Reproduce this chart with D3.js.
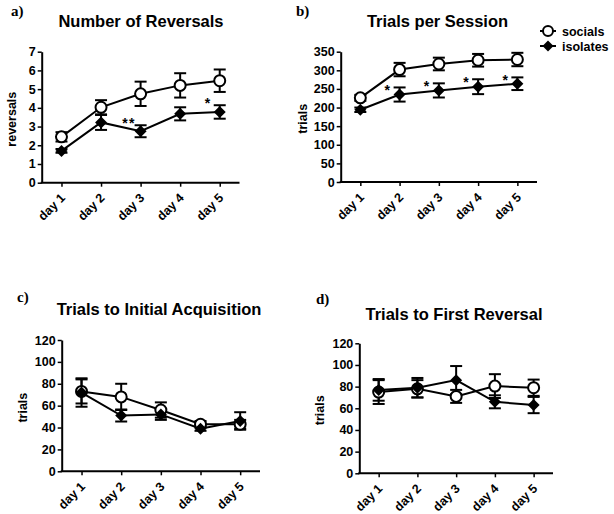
<!DOCTYPE html>
<html>
<head>
<meta charset="utf-8">
<script src="https://cdn.jsdelivr.net/npm/d3@7/dist/d3.min.js"></script>
<style>
  html, body { margin: 0; padding: 0; background: #fff; }
  svg { display: block; }
  text { font-family: "Liberation Sans", Arial, sans-serif; font-weight: bold; fill: #000; }
  .letter { font-family: "Liberation Serif", "Times New Roman", serif; }
</style>
</head>
<body>
<svg id="chart" width="614" height="514"></svg>
<script>
// ---------- data ----------
const days = ["day 1", "day 2", "day 3", "day 4", "day 5"];
const seriesNames = ["socials", "isolates"];

const reversalsSocialsMean = [2.45, 4.03, 4.75, 5.2, 5.45];
const reversalsSocialsSem  = [0.25, 0.38, 0.65, 0.65, 0.6];
const reversalsIsolatesMean = [1.7, 3.22, 2.75, 3.68, 3.78];
const reversalsIsolatesSem  = [0.1, 0.4, 0.32, 0.35, 0.36];
const reversalsSig = ["", "", "**", "", "*"];
const reversalsTicks = [0, 1, 2, 3, 4, 5, 6, 7];

const trialsSocialsMean = [226, 302, 317, 327, 329];
const trialsSocialsSem  = [8, 18, 17, 17, 18];
const trialsIsolatesMean = [194, 235, 246, 256, 264];
const trialsIsolatesSem  = [6, 19, 19, 20, 17];
const trialsSig = ["", "*", "*", "*", "*"];
const trialsTicks = [0, 50, 100, 150, 200, 250, 300, 350];

const acqSocialsMean = [73, 68, 56, 43, 43];
const acqSocialsSem  = [11, 12, 7, 3, 4];
const acqIsolatesMean = [72, 51, 52, 39, 46];
const acqIsolatesSem  = [13, 5.5, 5, 2, 8];
const acqSig = ["", "", "", "", ""];
const acqTicks = [0, 20, 40, 60, 80, 100, 120];

const firstRevSocialsMean = [75, 78, 71, 80.5, 79];
const firstRevSocialsSem  = [11, 8, 6, 11, 7.5];
const firstRevIsolatesMean = [77, 79, 86, 66, 63];
const firstRevIsolatesSem  = [10, 9, 13, 6, 7.5];
const firstRevSig = ["", "", "", "", ""];
const firstRevTicks = [0, 20, 40, 60, 80, 100, 120];

// ---------- drawing ----------
const svg = d3.select("#chart");

const panels = [
  { letter: "a)", title: "Number of Reversals", ylabel: "reversals",
    soc: reversalsSocialsMean, socE: reversalsSocialsSem, iso: reversalsIsolatesMean, isoE: reversalsIsolatesSem,
    sig: reversalsSig, ticks: reversalsTicks, starOff: -5,
    box: { l: 41.7, r: 239.5, t: 51.7, b: 182.7 }, letterPos: [11, 16], titlePos: [141, 27], ylabX: 16 },
  { letter: "b)", title: "Trials per Session", ylabel: "trials",
    soc: trialsSocialsMean, socE: trialsSocialsSem, iso: trialsIsolatesMean, isoE: trialsIsolatesSem,
    sig: trialsSig, ticks: trialsTicks, starOff: 0,
    box: { l: 340.7, r: 537, t: 51.7, b: 182 }, letterPos: [296, 16], titlePos: [437.5, 27], ylabX: 307 },
  { letter: "c)", title: "Trials to Initial Acquisition", ylabel: "trials",
    soc: acqSocialsMean, socE: acqSocialsSem, iso: acqIsolatesMean, isoE: acqIsolatesSem,
    sig: acqSig, ticks: acqTicks, starOff: 0,
    box: { l: 61.7, r: 260, t: 340, b: 471.3 }, letterPos: [17, 302], titlePos: [159, 315], ylabX: 27 },
  { letter: "d)", title: "Trials to First Reversal", ylabel: "trials",
    soc: firstRevSocialsMean, socE: firstRevSocialsSem, iso: firstRevIsolatesMean, isoE: firstRevIsolatesSem,
    sig: firstRevSig, ticks: firstRevTicks, starOff: 0,
    box: { l: 359.3, r: 553, t: 343.3, b: 473.3 }, letterPos: [316, 304], titlePos: [454, 320], ylabX: 324 }
];

function diamondPath(h) {
  return `M0,${-h}L${h},0L0,${h}L${-h},0Z`;
}

panels.forEach(p => {
  const g = svg.append("g");
  const b = p.box;
  const x = d3.scalePoint().domain(days).range([b.l, b.r]).padding(0.5);
  const y = d3.scaleLinear().domain([d3.min(p.ticks), d3.max(p.ticks)]).range([b.b, b.t]);

  // panel letter and title
  g.append("text").attr("class", "letter").attr("x", p.letterPos[0]).attr("y", p.letterPos[1])
    .attr("font-size", 15).text(p.letter);
  g.append("text").attr("x", p.titlePos[0]).attr("y", p.titlePos[1])
    .attr("text-anchor", "middle").attr("font-size", 16.5).text(p.title);

  // y axis
  const ya = g.append("g").attr("transform", `translate(${b.l},0)`)
    .call(d3.axisLeft(y).tickValues(p.ticks).tickFormat(d3.format("d")).tickSize(4).tickSizeOuter(0).tickPadding(2));
  ya.select(".domain").attr("stroke-width", 2).attr("stroke", "#000");
  ya.selectAll(".tick line").attr("stroke-width", 1.5).attr("stroke", "#000");
  ya.selectAll(".tick text").attr("font-size", 12.5).attr("font-family", "Liberation Sans, Arial, sans-serif")
    .attr("font-weight", "bold").attr("fill", "#000");

  // x axis
  const xa = g.append("g").attr("transform", `translate(0,${b.b})`)
    .call(d3.axisBottom(x).tickSize(4).tickSizeOuter(0));
  xa.select(".domain").attr("stroke-width", 2).attr("stroke", "#000")
    .attr("d", `M${b.l - 1},0H${b.r}`);
  xa.selectAll(".tick line").attr("stroke-width", 1.5).attr("stroke", "#000");
  xa.selectAll(".tick text")
    .attr("font-size", 12.5).attr("font-family", "Liberation Sans, Arial, sans-serif")
    .attr("font-weight", "bold").attr("fill", "#000")
    .attr("text-anchor", "end")
    .attr("dy", null).attr("y", 0)
    .attr("transform", "translate(4,16) rotate(-45)");

  // y label
  g.append("text").attr("transform", `translate(${p.ylabX},${(b.t + b.b) / 2 + 2}) rotate(-90)`)
    .attr("text-anchor", "middle").attr("font-size", 12.5).text(p.ylabel);

  const series = [
    { name: seriesNames[0], m: p.soc, e: p.socE },
    { name: seriesNames[1], m: p.iso, e: p.isoE }
  ];

  const line = d3.line().x((d, i) => x(days[i])).y(d => y(d));

  // error bars
  series.forEach(s => {
    const eb = g.append("g").attr("stroke", "#000").attr("stroke-width", 2).attr("fill", "none");
    s.m.forEach((v, i) => {
      const cx = x(days[i]);
      const y1 = y(v + s.e[i]), y0 = y(v - s.e[i]);
      eb.append("line").attr("x1", cx).attr("x2", cx).attr("y1", y1).attr("y2", y0);
      eb.append("line").attr("x1", cx - 6).attr("x2", cx + 6).attr("y1", y1).attr("y2", y1);
      eb.append("line").attr("x1", cx - 6).attr("x2", cx + 6).attr("y1", y0).attr("y2", y0);
    });
  });

  // lines
  series.forEach(s => {
    g.append("path").datum(s.m).attr("d", line).attr("fill", "none")
      .attr("stroke", "#000").attr("stroke-width", 2);
  });

  // markers
  series.forEach((s, si) => {
    s.m.forEach((v, i) => {
      const cx = x(days[i]), cy = y(v);
      if (si === 0) {
        g.append("circle").attr("cx", cx).attr("cy", cy).attr("r", 5.5)
          .attr("fill", "#fff").attr("stroke", "#000").attr("stroke-width", 2);
      } else {
        g.append("path").attr("d", diamondPath(6)).attr("transform", `translate(${cx},${cy})`)
          .attr("fill", "#000");
      }
    });
  });

  // significance markers
  p.sig.forEach((t, i) => {
    if (!t) return;
    const top = y(p.iso[i] + p.isoE[i]);
    g.append("text").attr("x", x(days[i]) - 11.5).attr("y", top + p.starOff + 8)
      .attr("text-anchor", "middle").attr("font-size", 14).attr("letter-spacing", 1.5).text(t);
  });

  // legend on panel b
  if (p.letter === "b)") {
    const lg = g.append("g");
    const lx = 548;
    [31, 46].forEach((ly, k) => {
      lg.append("line").attr("x1", lx - 8).attr("x2", lx + 8).attr("y1", ly).attr("y2", ly)
        .attr("stroke", "#000").attr("stroke-width", 2);
      if (k === 0) {
        lg.append("circle").attr("cx", lx).attr("cy", ly).attr("r", 5)
          .attr("fill", "#fff").attr("stroke", "#000").attr("stroke-width", 2);
      } else {
        lg.append("path").attr("d", diamondPath(5.5)).attr("transform", `translate(${lx},${ly})`)
          .attr("fill", "#000");
      }
      lg.append("text").attr("x", 562).attr("y", ly + 4.5).attr("font-size", 12.5).text(seriesNames[k]);
    });
  }
});
</script>
</body>
</html>
